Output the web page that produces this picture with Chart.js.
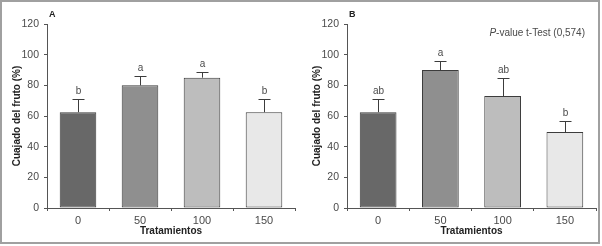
<!DOCTYPE html>
<html>
<head>
<meta charset="utf-8">
<script src="https://cdn.jsdelivr.net/npm/chart.js@4/dist/chart.umd.min.js"></script>
<style>
  html, body { margin: 0; padding: 0; background: #ffffff; }
  #wrap { position: relative; width: 602px; height: 246px; overflow: hidden; }
  #frame { position: absolute; left: 0; top: 0; width: 600px; height: 244px; box-sizing: border-box; border: 2px solid #a0a0a0; }
  .pane { position: absolute; top: 0; width: 300px; height: 246px; }
</style>
</head>
<body>
<div id="wrap">
  <div id="frame"></div>
  <div class="pane" style="left:0px"><canvas id="cA" width="300" height="246"></canvas></div>
  <div class="pane" style="left:300px"><canvas id="cB" width="300" height="246"></canvas></div>
</div>
<script>
// ---- data ----
const categories = ['0', '50', '100', '150'];
const yTicks = [0, 20, 40, 60, 80, 100, 120];
const meansA = [62.5, 80, 85, 62.5];
const errorsA = [8.3, 6, 4, 8.3];
const lettersA = ['b', 'a', 'a', 'b'];
const meansB = [62.5, 90, 73, 49.5];
const errorsB = [8.3, 5.7, 12, 7.5];
const lettersB = ['ab', 'a', 'ab', 'b'];
const barColors = ['#686868', '#8f8f8f', '#bdbdbd', '#e8e8e8'];
const panelLabels = ['A', 'B'];
const pValueText = ['P', '-value t-Test (0,574)'];

const FONT = "'Liberation Sans Narrow', 'Liberation Sans', Arial, sans-serif";
const TXT = '#4a4a4a';
const AXIS = '#555555';

const errPlugin = {
  id: 'errLetters',
  afterDatasetsDraw(chart, args, opts) {
    const ctx = chart.ctx;
    const meta = chart.getDatasetMeta(0);
    const ys = chart.scales.y;
    ctx.save();
    ctx.strokeStyle = '#3c3c3c';
    ctx.lineWidth = 1;
    meta.data.forEach((bar, i) => {
      const x = Math.round(bar.x) + 0.5;
      const yTop = ys.getPixelForValue(opts.means[i]);
      const yErr = Math.round(ys.getPixelForValue(opts.means[i] + opts.errors[i])) + 0.5;
      ctx.beginPath();
      ctx.moveTo(x, yTop);
      ctx.lineTo(x, yErr);
      ctx.moveTo(x - 6, yErr);
      ctx.lineTo(x + 6, yErr);
      ctx.stroke();
      ctx.fillStyle = TXT;
      ctx.font = '10px ' + FONT;
      ctx.textAlign = 'center';
      ctx.textBaseline = 'bottom';
      ctx.fillText(opts.letters[i], x, yErr - 3);
    });
    // panel label
    ctx.fillStyle = '#222';
    ctx.font = 'bold 9px ' + FONT;
    ctx.textAlign = 'left';
    ctx.textBaseline = 'middle';
    ctx.fillText(opts.panel, chart.chartArea.left + 2, 15);
    if (opts.pvalue) {
      ctx.fillStyle = TXT;
      ctx.font = '10px ' + FONT;
      const w2 = ctx.measureText(opts.pvalue[1]).width;
      ctx.font = 'italic 10px ' + FONT;
      const w1 = ctx.measureText(opts.pvalue[0]).width;
      const x0 = 285 - w1 - w2;
      ctx.textAlign = 'left';
      ctx.fillText(opts.pvalue[0], x0, 33);
      ctx.font = '10px ' + FONT;
      ctx.fillText(opts.pvalue[1], x0 + w1, 33);
    }
    ctx.restore();
  }
};

function makeChart(id, means, errors, letters, panel, pvalue, padRight) {
  return new Chart(document.getElementById(id), {
    type: 'bar',
    data: {
      labels: categories,
      datasets: [{
        data: means,
        backgroundColor: barColors,
        borderColor: '#3c3c3c',
        borderWidth: 1,
        borderSkipped: false,
        categoryPercentage: 1,
        barPercentage: 0.59
      }]
    },
    options: {
      responsive: false,
      animation: false,
      layout: { padding: { left: 0, right: padRight, top: 24, bottom: 0 } },
      plugins: {
        legend: { display: false },
        tooltip: { enabled: false },
        errLetters: { means, errors, letters, panel, pvalue }
      },
      scales: {
        x: {
          offset: true,
          grid: { display: true, drawOnChartArea: false, offset: true, tickLength: 3, color: AXIS },
          border: { display: true, color: AXIS, width: 1 },
          ticks: { color: TXT, font: { family: FONT, size: 11 }, padding: 3 },
          title: { display: true, text: 'Tratamientos', color: '#222', font: { family: FONT, size: 10, weight: 'bold' }, padding: { top: 0, bottom: 9 } },
          afterFit(s) { s.height = 38; }
        },
        y: {
          min: 0, max: 120,
          afterBuildTicks(s) { s.ticks = yTicks.map(v => ({ value: v })); },
          grid: { display: true, drawOnChartArea: false, tickLength: 3, color: AXIS },
          border: { display: true, color: AXIS, width: 1 },
          ticks: { color: TXT, font: { family: FONT, size: 10.5 }, padding: 5 },
          title: { display: true, text: 'Cuajado del fruto (%)', color: '#222', font: { family: FONT, size: 10, weight: 'bold' }, padding: { top: 11, bottom: 0 } },
          afterFit(s) { s.width = 47; }
        }
      }
    },
    plugins: [errPlugin]
  });
}

makeChart('cA', meansA, errorsA, lettersA, panelLabels[0], null, 5);
makeChart('cB', meansB, errorsB, lettersB, panelLabels[1], pValueText, 4);
</script>
</body>
</html>
